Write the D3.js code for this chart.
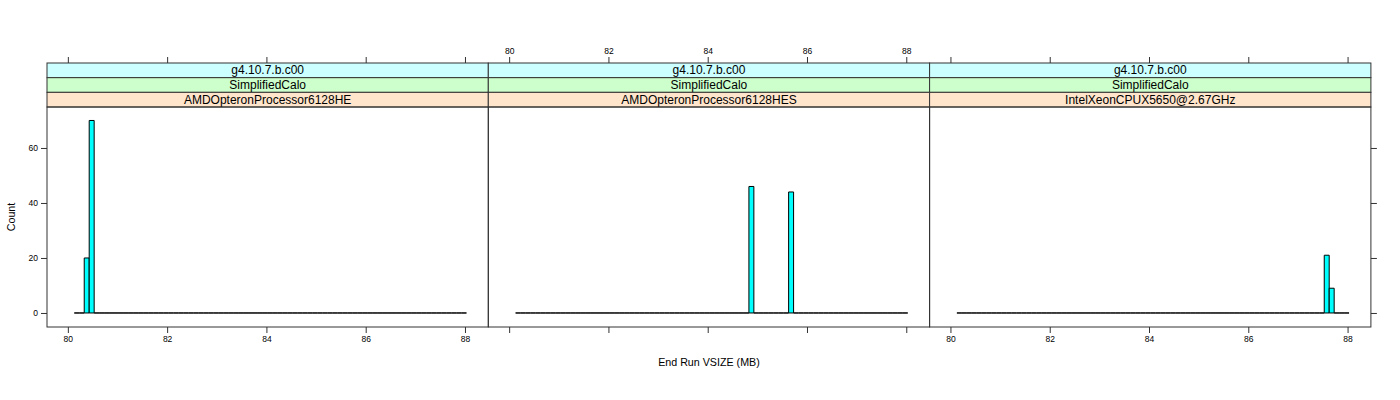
<!DOCTYPE html>
<html lang="en">
<head>
    <meta charset="UTF-8">
    <title>End Run VSIZE histogram</title>
    <script src="https://d3js.org/d3.v7.min.js"></script>
    <style>
        body { margin: 0; background: white; }
        svg { display: block; }
        text { font-family: "Liberation Sans", Arial, sans-serif; fill: black; }
        .tick-label { font-size: 8.5px; }
        .strip-text { font-size: 12px; }
        .title { font-size: 10.7px; }
    </style>
</head>
<body>
    <svg width="1400" height="400"></svg>

    <script>
        // panels (three strip levels each)
        const panelSoftware = ["g4.10.7.b.c00", "g4.10.7.b.c00", "g4.10.7.b.c00"];
        const panelApp = ["SimplifiedCalo", "SimplifiedCalo", "SimplifiedCalo"];
        const panelCpu = ["AMDOpteronProcessor6128HE", "AMDOpteronProcessor6128HES", "IntelXeonCPUX5650@2.67GHz"];

        // histogram bin edges (MB) and non-empty bins per panel: [bin start, count]
        const breakStart = 80.13, breakEnd = 88.03, binWidth = 0.1;
        const panelBins = [
            [[80.33, 20], [80.43, 70]],
            [[84.83, 46], [85.63, 44]],
            [[87.53, 21], [87.63, 9]]
        ];

        const xTicks = [80, 82, 84, 86, 88];
        const yTicks = [0, 20, 40, 60];

        const svg = d3.select("svg");
        const panelLeft = 47, panelW = 441.3, stripTop = 63, stripH = 14.67, plotTop = 107, plotBottom = 327;
        const stripColors = ["#ccffff", "#ccffcc", "#ffe5cc"];

        const y = d3.scaleLinear().domain([-5.1, 74.9]).range([plotBottom, plotTop]);
        const breaks = d3.range(0, Math.round((breakEnd - breakStart) / binWidth) + 1)
            .map(i => breakStart + i * binWidth);

        panelCpu.forEach((cpu, p) => {
            const x0 = panelLeft + p * panelW;
            const x = d3.scaleLinear().domain([79.58, 88.47]).range([x0, x0 + panelW]);
            const g = svg.append("g");

            // strips
            const labels = [panelSoftware[p], panelApp[p], cpu];
            labels.forEach((lab, i) => {
                g.append("rect")
                    .attr("x", x0).attr("y", stripTop + i * stripH)
                    .attr("width", panelW).attr("height", stripH)
                    .attr("fill", stripColors[i]).attr("stroke", "#333").attr("stroke-width", 1);
                g.append("text").attr("class", "strip-text")
                    .attr("x", x0 + panelW / 2).attr("y", stripTop + i * stripH + stripH / 2 + 4)
                    .attr("text-anchor", "middle").text(lab);
            });

            // bins
            const counts = new Map(panelBins[p].map(d => [d[0].toFixed(2), d[1]]));
            const bins = breaks.slice(0, -1).map(b => ({ x0: b, x1: b + binWidth, n: counts.get(b.toFixed(2)) || 0 }));
            g.selectAll(".bin").data(bins).enter().append("path")
                .attr("class", "bin")
                .attr("d", d => `M${x(d.x0)},${y(0)}V${y(d.n)}H${x(d.x1)}V${y(0)}Z`)
                .attr("fill", "#00ffff").attr("stroke", "black").attr("stroke-width", 1);

            // panel border
            g.append("rect")
                .attr("x", x0).attr("y", plotTop).attr("width", panelW).attr("height", plotBottom - plotTop)
                .attr("fill", "none").attr("stroke", "#333").attr("stroke-width", 1);

            // bottom axis
            const bottom = d3.axisBottom(x).tickValues(xTicks).tickSize(6).tickSizeOuter(0);
            if (p === 1) bottom.tickFormat("");
            const ba = g.append("g").attr("transform", `translate(0,${plotBottom})`).call(bottom);
            // top axis
            const topAx = d3.axisTop(x).tickValues(xTicks).tickSize(6).tickSizeOuter(0);
            if (p !== 1) topAx.tickFormat("");
            const ta = g.append("g").attr("transform", `translate(0,${stripTop})`).call(topAx);
            [ba, ta].forEach(a => {
                a.select(".domain").remove();
                a.selectAll("line").attr("stroke", "#333");
                a.selectAll("text").attr("class", "tick-label").attr("font-size", null).attr("font-family", null);
            });
        });

        // y axes: labelled left, ticks only right
        const leftAx = svg.append("g").attr("transform", `translate(${panelLeft},0)`)
            .call(d3.axisLeft(y).tickValues(yTicks).tickSize(6).tickSizeOuter(0));
        const rightAx = svg.append("g").attr("transform", `translate(${panelLeft + 3 * panelW},0)`)
            .call(d3.axisRight(y).tickValues(yTicks).tickSize(6).tickSizeOuter(0).tickFormat(""));
        [leftAx, rightAx].forEach(a => {
            a.select(".domain").remove();
            a.selectAll("line").attr("stroke", "#333");
            a.selectAll("text").attr("class", "tick-label").attr("font-size", null).attr("font-family", null);
        });

        svg.append("text").attr("class", "title")
            .attr("x", panelLeft + 1.5 * panelW).attr("y", 366)
            .attr("text-anchor", "middle").text("End Run VSIZE (MB)");
        svg.append("text").attr("class", "title")
            .attr("transform", `translate(15,${(plotTop + plotBottom) / 2}) rotate(-90)`)
            .attr("text-anchor", "middle").text("Count");
    </script>
</body>
</html>
